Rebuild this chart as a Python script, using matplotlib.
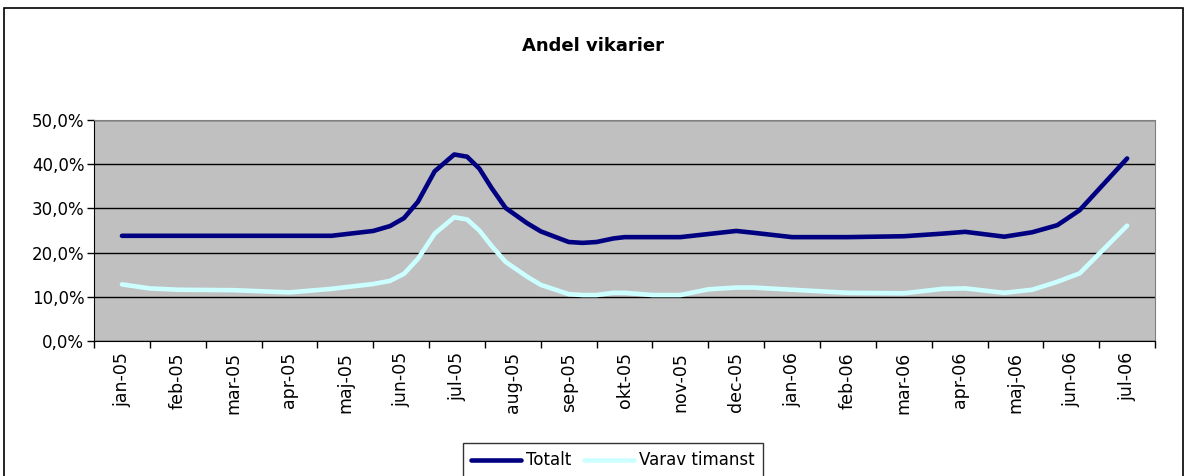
import matplotlib
matplotlib.use("Agg")
import matplotlib.pyplot as plt
from matplotlib.patches import Rectangle
from matplotlib.ticker import FixedLocator

# categories (month labels)
months = ["jan-05", "feb-05", "mar-05", "apr-05", "maj-05", "jun-05", "jul-05",
          "aug-05", "sep-05", "okt-05", "nov-05", "dec-05", "jan-06", "feb-06",
          "mar-06", "apr-06", "maj-06", "jun-06", "jul-06"]

# observation position, in months after jan-05
obs = [0, 0.5, 1, 2, 3, 3.75, 4.5, 4.8, 5.05, 5.3, 5.6, 5.95, 6.18, 6.4, 6.62,
       6.87, 7.25, 7.5, 8.0, 8.25, 8.5, 8.8, 9.0, 9.5, 10, 10.5, 11, 11.3, 12,
       13, 14, 14.7, 15.1, 15.8, 16.3, 16.75, 17.15, 18]

totalt = [23.8, 23.8, 23.8, 23.8, 23.8, 23.8, 24.9, 26.0, 27.8, 31.5, 38.4,
          42.2, 41.7, 39.0, 34.6, 30.1, 26.7, 24.8, 22.4, 22.2, 22.4, 23.2,
          23.5, 23.5, 23.5, 24.2, 24.9, 24.5, 23.5, 23.5, 23.7, 24.3, 24.7,
          23.6, 24.6, 26.2, 29.6, 41.3]

timanst = [12.8, 11.9, 11.6, 11.5, 11.0, 11.8, 12.9, 13.6, 15.2, 18.6, 24.3,
           28.0, 27.5, 25.0, 21.5, 17.9, 14.6, 12.7, 10.6, 10.4, 10.4, 10.9,
           10.9, 10.4, 10.4, 11.7, 12.1, 12.1, 11.6, 10.9, 10.8, 11.8, 11.9,
           10.9, 11.6, 13.4, 15.3, 26.1]

yticks = [0, 10, 20, 30, 40, 50]

plt.rcParams["font.family"] = "DejaVu Sans"

fig = plt.figure(figsize=(11.86, 4.76), dpi=100)
fig.patches.append(Rectangle((0.0034, -0.05), 0.9941, 1.033,
                             transform=fig.transFigure, fill=False,
                             edgecolor="black", linewidth=1.2))

ax = fig.add_axes([0.0793, 0.2836, 0.8946, 0.4643])
ax.set_facecolor("#C0C0C0")

ax.plot(obs, totalt, color="#000080", linewidth=3.3, label="Totalt",
        solid_joinstyle="round", solid_capstyle="round")
ax.plot(obs, timanst, color="#CCFFFF", linewidth=3.3, label="Varav timanst",
        solid_joinstyle="round", solid_capstyle="round")

ax.set_xlim(-0.5, len(months) - 0.5)
ax.set_ylim(0, 50)
ax.set_yticks(yticks)
ax.set_yticklabels([f"{v:.1f}%".replace(".", ",") for v in yticks])

ax.xaxis.set_major_locator(FixedLocator([i - 0.5 for i in range(len(months) + 1)]))
ax.xaxis.set_minor_locator(FixedLocator(range(len(months))))
ax.set_xticklabels([])
ax.set_xticklabels(months, minor=True, rotation=90)
ax.tick_params(axis="x", which="minor", length=0, pad=8, labelsize=12.5)
ax.tick_params(axis="x", which="major", length=5, width=1, direction="out")
ax.tick_params(axis="y", length=5, width=1, direction="out", labelsize=12, pad=2)

ax.grid(axis="y", color="black", linewidth=1)
ax.set_axisbelow(True)
for side in ("top", "right"):
    ax.spines[side].set_color("#808080")
for side in ("left", "bottom"):
    ax.spines[side].set_color("black")

fig.text(0.5, 1 - 46 / 476, "Andel vikarier", ha="center", va="center",
         fontsize=13, fontweight="bold")

leg = fig.legend(loc="upper center", bbox_to_anchor=(613 / 1186, 1 - 443 / 476),
                 ncol=2, frameon=True, fancybox=False, edgecolor="black",
                 fontsize=12, handlelength=3, columnspacing=0.8,
                 handletextpad=0.3, borderpad=0.5, borderaxespad=0)
leg.get_frame().set_linewidth(1)

fig.savefig("out.png", dpi=100)
